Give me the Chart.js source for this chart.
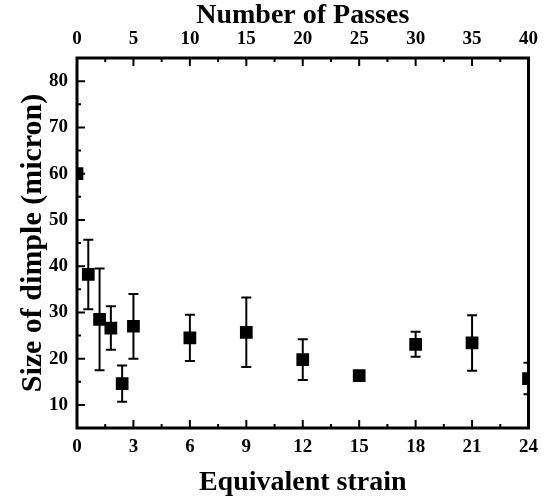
<!DOCTYPE html>
<html>
<head>
<meta charset="utf-8">
<script src="https://cdn.jsdelivr.net/npm/chart.js@4"></script>
<style>
  html, body { margin: 0; padding: 0; background: #fff; }
  #wrap { width: 546px; height: 498px; }
</style>
</head>
<body>
<div id="wrap"><canvas id="dimpleChart"></canvas></div>
<script>
// Dimple size vs equivalent strain (one pass = 0.6 strain)
const strain     = [0, 0.6, 1.2, 1.8, 2.4, 3, 6, 9, 12, 15, 18, 21, 24];
const dimpleSize = [60, 38.2, 28.5, 26.6, 14.6, 27, 24.5, 25.7, 19.8, 16.3, 23.1, 23.4, 15.7];
const dimpleErr  = [0, 7.5, 11, 4.7, 3.9, 7, 5, 7.5, 4.4, 0.7, 2.7, 6, 3.4];

// tick positions for the three axes
const strainTicks = [0, 3, 6, 9, 12, 15, 18, 21, 24];
const strainMinor = [1.5, 4.5, 7.5, 10.5, 13.5, 16.5, 19.5, 22.5];
const passTicks   = [0, 5, 10, 15, 20, 25, 30, 35, 40];
const passMinor   = [2.5, 7.5, 12.5, 17.5, 22.5, 27.5, 32.5, 37.5];
const sizeTicks   = [10, 20, 30, 40, 50, 60, 70, 80];
const sizeMinor   = [15, 25, 35, 45, 55, 65, 75];

const serif = "'Liberation Serif', 'Times New Roman', serif";
const tickFont = { family: serif, size: 19, weight: 'bold' };
const titleFont = { family: serif, size: 28, weight: 'bold', lineHeight: 1 };

function fixedTicks(list) {
    return function (scale) {
        scale.ticks = list.map(v => ({ value: v }));
    };
}

// vertical error bars, clipped to the plot box
const errorBars = {
    id: 'errorBars',
    beforeDatasetsDraw(chart) {
        const { ctx, chartArea: a, scales: { x, y } } = chart;
        ctx.save();
        ctx.beginPath();
        ctx.rect(a.left, a.top, a.right - a.left, a.bottom - a.top);
        ctx.clip();
        ctx.strokeStyle = '#000';
        ctx.lineWidth = 2;
        strain.forEach((s, i) => {
            if (!dimpleErr[i]) return;
            const px = x.getPixelForValue(s);
            const hi = y.getPixelForValue(dimpleSize[i] + dimpleErr[i]);
            const lo = y.getPixelForValue(dimpleSize[i] - dimpleErr[i]);
            ctx.beginPath();
            ctx.moveTo(px, hi); ctx.lineTo(px, lo);
            ctx.moveTo(px - 5, hi); ctx.lineTo(px + 5, hi);
            ctx.moveTo(px - 5, lo); ctx.lineTo(px + 5, lo);
            ctx.stroke();
        });
        ctx.restore();
    }
};

// box frame with inward major/minor ticks
const frame = {
    id: 'frame',
    afterDatasetsDraw(chart) {
        const { ctx, chartArea: a, scales: { x, x2, y } } = chart;
        ctx.save();
        ctx.strokeStyle = '#000';
        ctx.lineWidth = 2;
        ctx.beginPath();
        const bottomTick = (v, len) => {
            const px = x.getPixelForValue(v);
            ctx.moveTo(px, a.bottom); ctx.lineTo(px, a.bottom - len);
        };
        const topTick = (v, len) => {
            const px = x2.getPixelForValue(v);
            ctx.moveTo(px, a.top); ctx.lineTo(px, a.top + len);
        };
        const leftTick = (v, len) => {
            const py = y.getPixelForValue(v);
            ctx.moveTo(a.left, py); ctx.lineTo(a.left + len, py);
        };
        strainTicks.forEach(v => bottomTick(v, 8));
        strainMinor.forEach(v => bottomTick(v, 4));
        passTicks.forEach(v => topTick(v, 8));
        passMinor.forEach(v => topTick(v, 4));
        sizeTicks.forEach(v => leftTick(v, 8));
        sizeMinor.forEach(v => leftTick(v, 4));
        ctx.stroke();
        ctx.lineWidth = 3;
        ctx.strokeRect(a.left, a.top, a.right - a.left, a.bottom - a.top);
        ctx.restore();
    }
};

const ctx = document.getElementById('dimpleChart').getContext('2d');
new Chart(ctx, {
    type: 'scatter',
    data: {
        datasets: [{
            label: 'Size of dimple',
            data: strain.map((s, i) => ({ x: s, y: dimpleSize[i] })),
            pointStyle: 'rect',
            pointRadius: 9,
            pointBackgroundColor: '#000',
            pointBorderWidth: 0,
            clip: 0
        }]
    },
    options: {
        responsive: true,
        maintainAspectRatio: false,
        animation: false,
        devicePixelRatio: 1,
        layout: { padding: { left: 0, right: 12, top: 0, bottom: 0 } },
        plugins: {
            legend: { display: false },
            tooltip: { enabled: false }
        },
        scales: {
            x: {
                type: 'linear',
                position: 'bottom',
                min: 0,
                max: 24,
                afterBuildTicks: fixedTicks(strainTicks),
                afterFit: s => { s.height = 70; },
                grid: { display: false, drawTicks: false },
                border: { display: false },
                ticks: { font: tickFont, color: '#000', padding: 8, maxRotation: 0, autoSkip: false },
                title: { display: true, text: 'Equivalent strain', font: titleFont, color: '#000', padding: { top: 0, bottom: 1 } }
            },
            x2: {
                type: 'linear',
                position: 'top',
                min: 0,
                max: 40,
                afterBuildTicks: fixedTicks(passTicks),
                afterFit: s => { s.height = 58; },
                grid: { display: false, drawTicks: false },
                border: { display: false },
                ticks: { font: tickFont, color: '#000', padding: 8, maxRotation: 0, autoSkip: false },
                title: { display: true, text: 'Number of Passes', font: titleFont, color: '#000', padding: { top: 2, bottom: 0 } }
            },
            y: {
                type: 'linear',
                position: 'left',
                min: 5,
                max: 85,
                afterBuildTicks: fixedTicks(sizeTicks),
                afterFit: s => { s.width = 77; },
                grid: { display: false, drawTicks: false },
                border: { display: false },
                ticks: { font: tickFont, color: '#000', padding: 9 },
                title: { display: true, text: 'Size of dimple (micron)', font: { family: serif, size: 30, weight: 'bold', lineHeight: 1 }, color: '#000', padding: { top: 18, bottom: 0 } }
            }
        }
    },
    plugins: [errorBars, frame]
});
</script>
</body>
</html>
